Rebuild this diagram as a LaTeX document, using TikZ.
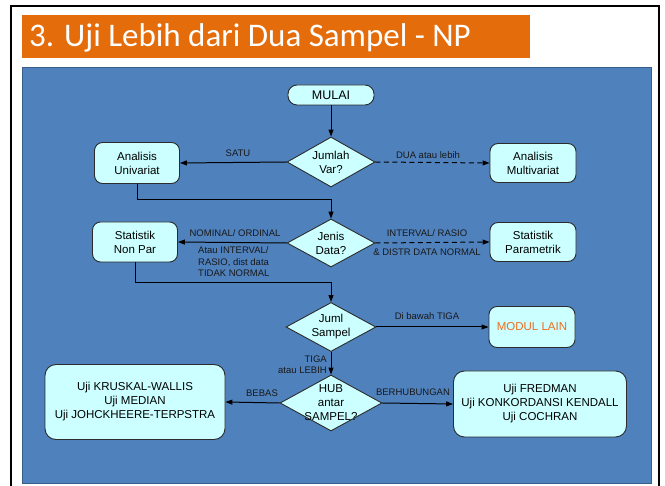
\documentclass[tikz,border=0pt]{standalone}
\usepackage{fontspec}
\setmainfont{Liberation Sans}
\newfontfamily\titlefont{Carlito}
\usetikzlibrary{arrows.meta,shapes.geometric}

\definecolor{panelblue}{HTML}{4F81BD}
\definecolor{paneledge}{HTML}{385D8A}
\definecolor{titleorange}{HTML}{E46C0A}
\definecolor{boxfill}{HTML}{CCFFFF}
\definecolor{boxedge}{HTML}{2B2B2B}
\definecolor{modtext}{HTML}{F26B1D}

\tikzset{
  box/.style={draw=boxedge, line width=0.9pt, fill=boxfill, rounded corners=8pt,
    align=center, inner sep=0pt, font=\fontsize{11.5}{14}\selectfont},
  decide/.style={draw=boxedge, line width=0.9pt, fill=boxfill, diamond, inner sep=0pt},
  dtext/.style={align=center, font=\fontsize{11.5}{14}\selectfont},
  flow/.style={line width=1pt, draw=black, -{Triangle[length=7pt,width=5pt]}},
  dflow/.style={flow, dash pattern=on 5pt off 3.5pt},
  lbl/.style={font=\fontsize{9.5}{11.5}\selectfont, inner sep=0pt, text=black!90}
}

\begin{document}
\begin{tikzpicture}[x=1pt,y=-1pt]
\useasboundingbox (0,0) rectangle (665,486);
\fill[white] (0,0) rectangle (665,486);

% slide frame
\draw[line width=2pt, black] (11,486) -- (11,6) -- (659,6) -- (659,486);

% title bar
\fill[titleorange] (22,15) rectangle (530,58);
\node[anchor=west, text=white, inner sep=0pt, font=\titlefont\fontsize{33}{36}\selectfont] (title) at (29,37.5) {3. Uji Lebih dari Dua Sampel - NP};

% flowchart panel
\filldraw[fill=panelblue, draw=paneledge, line width=0.8pt] (22,67) rectangle (651,483);

% boxes
\node[box, minimum width=86pt, minimum height=20pt, rounded corners=9pt, font=\fontsize{12.5}{14}\selectfont] (mulai) at (331,95) {MULAI};
\node[box, minimum width=85pt, minimum height=41pt] (univ) at (137,163) {Analisis\\Univariat};
\node[box, minimum width=86pt, minimum height=39pt] (multi) at (533,163) {Analisis\\Multivariat};
\node[box, minimum width=85pt, minimum height=40pt] (nonpar) at (135,242) {Statistik\\Non Par};
\node[box, minimum width=86pt, minimum height=39pt] (param) at (533,242) {Statistik\\Parametrik};
\node[box, minimum width=86pt, minimum height=41pt, text=modtext] (modul) at (532,327) {MODUL LAIN};
\node[box, minimum width=180pt, minimum height=75pt, rounded corners=11pt] (kruskal) at (135,402) {Uji KRUSKAL-WALLIS\\Uji MEDIAN\\Uji JOHCKHEERE-TERPSTRA};
\node[box, minimum width=173pt, minimum height=66pt, rounded corners=11pt] (fredman) at (540,404) {Uji FREDMAN\\Uji KONKORDANSI KENDALL\\Uji COCHRAN};

% decisions
\node[decide, minimum width=88pt, minimum height=50pt] (jumlah) at (331,162) {};
\node[dtext] (jumlahT) at (jumlah.center) {Jumlah\\Var?};
\node[decide, minimum width=88pt, minimum height=48pt] (jenis) at (331,243) {};
\node[dtext] (jenisT) at (jenis.center) {Jenis\\Data?};
\node[decide, minimum width=90pt, minimum height=49pt] (juml) at (331,327) {};
\node[dtext] (jumlT) at (juml.center) {Juml\\Sampel};
\node[decide, minimum width=102pt, minimum height=56pt] (hub) at (331,403) {};
\node[dtext] (hubT) at (hub.center) {HUB\\antar\\SAMPEL?};

% routing points
\coordinate (j1) at (331,200);
\coordinate (j2) at (331,283);

% connectors
\draw[flow] (mulai) -- (jumlah);
\draw[flow] (jumlah.west) -- (univ.east);
\draw[dflow] (jumlah.east) -- (multi.west);
\draw[flow] (univ.south) |- (j1) -- (jenis.north);
\draw[flow] (jenis.west) -- (nonpar.east);
\draw[dflow] (jenis.east) -- (param.west);
\draw[flow] (nonpar.south) |- (j2) -- (juml.north);
\draw[flow] (juml.east) -- (modul.west);
\draw[flow] (juml.south) -- (hub.north);
\draw[flow] (hub.west) -- (kruskal.east);
\draw[flow] (hub.east) -- (fredman.west);

% connector labels
\node[lbl] (lsatu) at (238,153) {SATU};
\node[lbl] (ldua) at (428,155) {DUA atau lebih};
\node[lbl] (lnom) at (235,233) {NOMINAL/ ORDINAL};
\node[lbl, anchor=west, align=left] (latau) at (198,262) {Atau INTERVAL/\\RASIO, dist data\\TIDAK NORMAL};
\node[lbl] (lint) at (427,233) {INTERVAL/ RASIO};
\node[lbl] (ldist) at (427,252) {\& DISTR DATA NORMAL};
\node[lbl] (lbawah) at (427,316) {Di bawah TIGA};
\node[lbl, anchor=east, align=right] (ltiga) at (327,364.5) {TIGA\\atau LEBIH};
\node[lbl] (lbebas) at (262,393) {BEBAS};
\node[lbl] (lhub) at (413,392) {BERHUBUNGAN};
\end{tikzpicture}
\end{document}
